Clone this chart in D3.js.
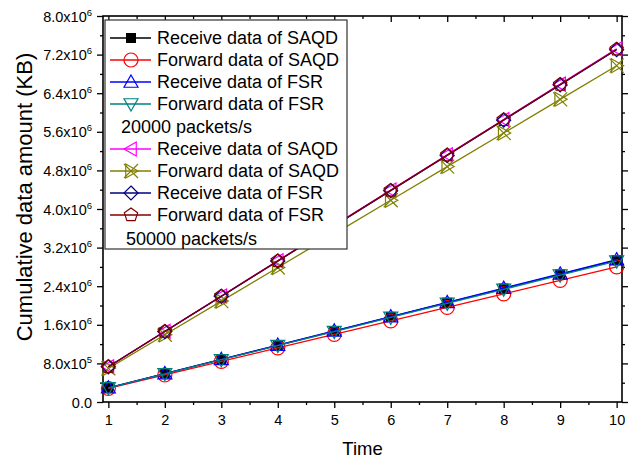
<!DOCTYPE html>
<html>
<head>
<meta charset="utf-8">
<script src="https://cdn.jsdelivr.net/npm/d3@7"></script>
<style>
  body { margin: 0; background: #fff; }
  svg { font-family: "Liberation Sans", Arial, sans-serif; }
</style>
</head>
<body>
<div id="content"></div>
<script>
// data (KB), time 1..10
const times = [1, 2, 3, 4, 5, 6, 7, 8, 9, 10];
const recvSAQD20 = [0.294e6, 0.588e6, 0.882e6, 1.176e6, 1.470e6, 1.764e6, 2.058e6, 2.352e6, 2.646e6, 2.940e6];
const fwdSAQD20  = [0.280e6, 0.560e6, 0.840e6, 1.120e6, 1.400e6, 1.680e6, 1.960e6, 2.240e6, 2.520e6, 2.800e6];
const recvFSR20  = [0.295e6, 0.590e6, 0.885e6, 1.180e6, 1.475e6, 1.770e6, 2.065e6, 2.360e6, 2.655e6, 2.950e6];
const fwdFSR20   = [0.292e6, 0.584e6, 0.876e6, 1.168e6, 1.460e6, 1.752e6, 2.044e6, 2.336e6, 2.628e6, 2.920e6];
const recvSAQD50 = [0.732e6, 1.464e6, 2.196e6, 2.928e6, 3.660e6, 4.392e6, 5.124e6, 5.856e6, 6.588e6, 7.320e6];
const fwdSAQD50  = [0.697e6, 1.394e6, 2.091e6, 2.788e6, 3.485e6, 4.182e6, 4.879e6, 5.576e6, 6.273e6, 6.970e6];
const recvFSR50  = [0.730e6, 1.460e6, 2.190e6, 2.920e6, 3.650e6, 4.380e6, 5.110e6, 5.840e6, 6.570e6, 7.300e6];
const fwdFSR50   = [0.731e6, 1.462e6, 2.193e6, 2.924e6, 3.655e6, 4.386e6, 5.117e6, 5.848e6, 6.579e6, 7.310e6];

const yTicks = [0, 0.8e6, 1.6e6, 2.4e6, 3.2e6, 4.0e6, 4.8e6, 5.6e6, 6.4e6, 7.2e6, 8.0e6];
const yTickLabels = [["0.0", ""], ["8.0x10", "5"], ["1.6x10", "6"], ["2.4x10", "6"], ["3.2x10", "6"], ["4.0x10", "6"],
  ["4.8x10", "6"], ["5.6x10", "6"], ["6.4x10", "6"], ["7.2x10", "6"], ["8.0x10", "6"]];

const series = [
  {name: "Receive data of SAQD", values: recvSAQD20, color: "#000000", sym: "square"},
  {name: "Forward data of SAQD", values: fwdSAQD20, color: "#ff0000", sym: "circle"},
  {name: "Receive data of FSR", values: recvFSR20, color: "#0000ff", sym: "up"},
  {name: "Forward data of FSR", values: fwdFSR20, color: "#008080", sym: "down"},
  {name: "Receive data of SAQD", values: recvSAQD50, color: "#ff00ff", sym: "left"},
  {name: "Forward data of SAQD", values: fwdSAQD50, color: "#808000", sym: "right"},
  {name: "Receive data of FSR", values: recvFSR50, color: "#000080", sym: "diamond"},
  {name: "Forward data of FSR", values: fwdFSR50, color: "#800000", sym: "pentagon"}
];

const w = 639, h = 461;
const pL = 103, pR = 622, pT = 16, pB = 402;

const svg = d3.select("#content").append("svg").attr("width", w).attr("height", h);

const x = d3.scaleLinear().domain([0.905, 10.095]).range([pL, pR]);
const y = d3.scaleLinear().domain([0, 8.0e6]).range([pB, pT]);

// axes
const xMinor = d3.range(1.5, 10, 1);
const yMinor = d3.range(0.4e6, 8.0e6, 0.8e6);

function tickGroup(axis, tr) {
  const g = svg.append("g").attr("transform", tr).call(axis);
  g.select(".domain").remove();
  g.selectAll("line").attr("stroke", "#000").attr("stroke-width", 1.3);
  return g;
}
const xb = tickGroup(d3.axisBottom(x).tickValues(times).tickSize(6).tickPadding(7), `translate(0,${pB})`);
xb.selectAll("text").attr("font-size", 14.5).attr("fill", "#000");
tickGroup(d3.axisBottom(x).tickValues(xMinor).tickSize(3).tickFormat(""), `translate(0,${pB})`);
tickGroup(d3.axisBottom(x).tickValues(times).tickSize(6).tickFormat(""), `translate(0,${pT})`);
tickGroup(d3.axisBottom(x).tickValues(xMinor).tickSize(3).tickFormat(""), `translate(0,${pT})`);

const yl = tickGroup(d3.axisLeft(y).tickValues(yTicks).tickSize(6).tickFormat(""), `translate(${pL},0)`);
tickGroup(d3.axisLeft(y).tickValues(yMinor).tickSize(3).tickFormat(""), `translate(${pL},0)`);
tickGroup(d3.axisLeft(y).tickValues(yTicks).tickSize(-6).tickFormat(""), `translate(${pR},0)`);
tickGroup(d3.axisLeft(y).tickValues(yMinor).tickSize(-3).tickFormat(""), `translate(${pR},0)`);

yl.selectAll(".tick").each(function(d, i) {
  const t = d3.select(this).append("text")
    .attr("x", -11).attr("y", 5).attr("text-anchor", "end")
    .attr("font-size", 14.5).attr("fill", "#000");
  t.append("tspan").text(yTickLabels[i][0]);
  if (yTickLabels[i][1]) t.append("tspan").attr("dy", -6).attr("font-size", 9.5).text(yTickLabels[i][1]);
});

// frame
svg.append("rect").attr("x", pL).attr("y", pT).attr("width", pR - pL).attr("height", pB - pT)
  .attr("fill", "none").attr("stroke", "#000").attr("stroke-width", 1.6);

// titles
svg.append("text").text("Time").attr("x", (pL + pR) / 2).attr("y", 455)
  .attr("text-anchor", "middle").attr("font-size", 18.5);
svg.append("text").text("Cumulative data amount (KB)")
  .attr("transform", "translate(32,197) rotate(-90)").attr("text-anchor", "middle").attr("font-size", 22);

// markers
function marker(g, sym, color, cx, cy) {
  const r = 7;
  if (sym === "square") {
    g.append("rect").attr("x", cx - 5).attr("y", cy - 5).attr("width", 10).attr("height", 10).attr("fill", color);
    return;
  }
  let pts;
  if (sym === "circle") {
    g.append("circle").attr("cx", cx).attr("cy", cy).attr("r", r).attr("fill", "none").attr("stroke", color).attr("stroke-width", 1.2);
    return;
  }
  if (sym === "up") pts = [[cx, cy - r], [cx + r, cy + r * 0.75], [cx - r, cy + r * 0.75]];
  if (sym === "down") pts = [[cx, cy + r], [cx + r, cy - r * 0.75], [cx - r, cy - r * 0.75]];
  if (sym === "left") pts = [[cx - r, cy], [cx + r * 0.75, cy - r], [cx + r * 0.75, cy + r]];
  if (sym === "right") pts = [[cx + r, cy], [cx - r * 0.75, cy - r], [cx - r * 0.75, cy + r]];
  if (sym === "diamond") pts = [[cx, cy - r], [cx + r, cy], [cx, cy + r], [cx - r, cy]];
  if (sym === "pentagon") pts = d3.range(5).map(k => {
    const a = -Math.PI / 2 + k * 2 * Math.PI / 5;
    return [cx + r * Math.cos(a), cy + r * Math.sin(a)];
  });
  g.append("polygon").attr("points", pts.map(p => p.join(",")).join(" "))
    .attr("fill", "none").attr("stroke", color).attr("stroke-width", 1.2);
  if (sym === "right") {
    g.append("path").attr("d", `M${cx - r},${cy - r}L${cx + r},${cy + r}M${cx - r},${cy + r}L${cx + r},${cy - r}`)
      .attr("stroke", color).attr("stroke-width", 1.2);
  }
}

const line = d3.line().x((d, i) => x(times[i])).y(d => y(d));
const plot = svg.append("g");
series.forEach(s => {
  plot.append("path").datum(s.values).attr("d", line)
    .attr("fill", "none").attr("stroke", s.color).attr("stroke-width", 1.3);
  s.values.forEach((v, i) => marker(plot, s.sym, s.color, x(times[i]), y(v)));
});

// legend
const lg = svg.append("g");
lg.append("rect").attr("x", 105).attr("y", 20).attr("width", 242).attr("height", 229)
  .attr("fill", "#fff").attr("stroke", "#333").attr("stroke-width", 1.2);
const rowY = [38, 60, 82, 104, 149, 171, 193, 215];
series.forEach((s, i) => {
  const yy = rowY[i];
  lg.append("line").attr("x1", 110).attr("x2", 151).attr("y1", yy).attr("y2", yy)
    .attr("stroke", s.color).attr("stroke-width", 1.3);
  marker(lg, s.sym, s.color, 131, yy);
  lg.append("text").text(s.name).attr("x", 157).attr("y", yy + 6).attr("font-size", 18);
});
lg.append("text").text("20000 packets/s").attr("x", 121).attr("y", 133).attr("font-size", 18);
lg.append("text").text("50000 packets/s").attr("x", 126).attr("y", 245).attr("font-size", 18);
</script>
</body>
</html>
